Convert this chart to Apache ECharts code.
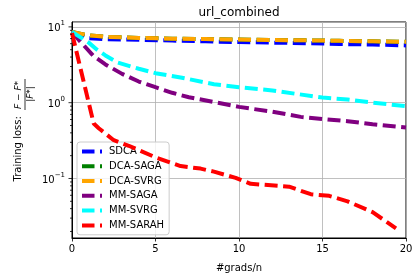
<!DOCTYPE html>
<html>
<head>
<meta charset="utf-8">
<script src="https://cdn.jsdelivr.net/npm/echarts@6/dist/echarts.min.js"></script>
<style>
html,body{margin:0;padding:0;background:#fff;}
#chart{width:419px;height:278px;}
</style>
</head>
<body>
<div id="chart"></div>
<script>
// ---- data ----
const seriesNames = ['SDCA', 'DCA-SAGA', 'DCA-SVRG', 'MM-SAGA', 'MM-SVRG', 'MM-SARAH'];
const seriesColors = ['#0000ff', '#008000', '#ffa500', '#800080', '#00ffff', '#ff0000'];

const sdcaX = [0, 1, 2, 4, 6, 8, 10, 12, 14, 16, 18, 20];
const sdcaY = [8.6, 7.1, 6.9, 6.75, 6.6, 6.45, 6.3, 6.2, 6.1, 5.95, 5.85, 5.7];

const dcaSagaX = [0, 1, 2, 4, 6, 8, 10, 12, 14, 16, 18, 20];
const dcaSagaY = [8.6, 7.7, 7.4, 7.15, 7.0, 6.9, 6.8, 6.7, 6.65, 6.55, 6.45, 6.35];

const dcaSvrgX = [0, 1, 2, 4, 6, 8, 10, 12, 14, 16, 18, 20];
const dcaSvrgY = [8.6, 7.7, 7.4, 7.15, 7.0, 6.9, 6.8, 6.7, 6.65, 6.55, 6.45, 6.35];

const mmSagaX = [0, 0.5, 1.3, 2, 3, 4, 5, 6, 7, 8.5, 10, 12, 13.7, 15, 16.5, 18, 20];
const mmSagaY = [8.6, 6.4, 4.1, 3.2, 2.4, 1.9, 1.6, 1.35, 1.18, 1.02, 0.88, 0.76, 0.65, 0.61, 0.57, 0.52, 0.47];

const mmSvrgX = [0, 1, 1.5, 2, 2.7, 4, 5, 6.5, 8.5, 10, 12, 13.5, 15, 16.5, 18, 20];
const mmSvrgY = [8.6, 6.2, 5.0, 4.2, 3.4, 2.8, 2.45, 2.15, 1.75, 1.6, 1.45, 1.3, 1.17, 1.1, 1.0, 0.9];

const mmSarahX = [0, 1.3, 1.6, 2.5, 3.4, 5, 6.5, 7.7, 8.5, 9.8, 10.7, 13, 14.3, 15.4, 16.5, 18, 19.4];
const mmSarahY = [8.3, 0.53, 0.46, 0.32, 0.27, 0.19, 0.146, 0.135, 0.123, 0.102, 0.085, 0.078, 0.062, 0.059, 0.05, 0.036, 0.022];

const xTicks = [0, 5, 10, 15, 20];
const yMajorTicks = [0.1, 1, 10];
const yMinorTicks = [0.02, 0.03, 0.04, 0.05, 0.06, 0.07, 0.08, 0.09,
                     0.2, 0.3, 0.4, 0.5, 0.6, 0.7, 0.8, 0.9,
                     2, 3, 4, 5, 6, 7, 8, 9];

const titleText = 'url_combined';
const xLabel = '#grads/n';

// ---- build ----
const allX = [sdcaX, dcaSagaX, dcaSvrgX, mmSagaX, mmSvrgX, mmSarahX];
const allY = [sdcaY, dcaSagaY, dcaSvrgY, mmSagaY, mmSvrgY, mmSarahY];
const FONT = 'DejaVu Sans';
const legendIcon = 'path://M0,0h12.5v4h-12.5z M18,0h2v4h-2z';

const lineSeries = seriesNames.map((name, i) => ({
  name: name,
  type: 'line',
  showSymbol: false,
  symbol: 'none',
  data: allX[i].map((x, j) => [x, allY[i][j]]),
  lineStyle: { color: seriesColors[i], width: 4, type: [13, 5.5], cap: 'butt' },
  itemStyle: { color: seriesColors[i] },
  z: 2 + i
}));

const tickData = yMajorTicks.map(v => [0, v, 1]).concat(yMinorTicks.map(v => [0, v, 0]));
const tickSeries = {
  type: 'custom',
  name: '_ticks',
  clip: false,
  silent: true,
  data: tickData,
  encode: { x: 0, y: 1 },
  renderItem: function (params, api) {
    const p = api.coord([0, api.value(1)]);
    const len = api.value(2) ? 3.5 : 2;
    return {
      type: 'line',
      shape: { x1: p[0] - len, y1: p[1], x2: p[0], y2: p[1] },
      style: { stroke: '#000', lineWidth: 0.8 }
    };
  },
  z: 10
};

const supMap = { '1': '1', '0': '0', '-1': '\u22121' };

const option = {
  animation: false,
  backgroundColor: '#fff',
  textStyle: { fontFamily: FONT },
  grid: {
    left: 72, right: 13, top: 22, bottom: 37,
    show: true, borderColor: '#000', borderWidth: 1, backgroundColor: 'transparent'
  },
  legend: {
    data: seriesNames.map((n, i) => ({ name: n, icon: legendIcon, itemStyle: { color: seriesColors[i] } })),
    orient: 'vertical',
    left: 77, top: 142,
    padding: [2, 5, 2, 5],
    itemWidth: 20, itemHeight: 4, itemGap: 0,
    backgroundColor: 'rgba(255,255,255,0.8)',
    borderColor: '#cccccc', borderWidth: 1, borderRadius: 3,
    textStyle: { fontFamily: FONT, fontSize: 10, color: '#000', lineHeight: 14.8, padding: [0, 0, 0, 2] }
  },
  xAxis: {
    type: 'value', min: 0, max: 20, interval: 5,
    axisLine: { show: true, lineStyle: { color: '#000', width: 1 } },
    axisTick: { show: true, length: 3.5, lineStyle: { color: '#000', width: 0.8 } },
    axisLabel: { fontFamily: FONT, fontSize: 10, color: '#000', margin: 6 },
    splitLine: { show: true, lineStyle: { color: '#b0b0b0', width: 0.8 } },
    name: xLabel, nameLocation: 'middle', nameGap: 25,
    nameTextStyle: { fontFamily: FONT, fontSize: 10, color: '#000' }
  },
  yAxis: {
    type: 'log', logBase: 10, min: 0.0164, max: 11.6,
    axisLine: { show: true, lineStyle: { color: '#000', width: 1 } },
    axisTick: { show: false },
    minorTick: { show: false },
    axisLabel: {
      margin: 7,
      showMinLabel: false, showMaxLabel: false,
      formatter: function (v) {
        const e = Math.log10(v);
        const r = Math.round(e);
        if (Math.abs(e - r) > 1e-6) return '';
        return '{b|10}{s|' + (supMap[String(r)] || String(r)) + '}';
      },
      rich: {
        b: { fontFamily: FONT, fontSize: 10, color: '#000', verticalAlign: 'bottom', lineHeight: 14 },
        s: { fontFamily: FONT, fontSize: 7, color: '#000', verticalAlign: 'top', lineHeight: 14 }
      }
    },
    splitLine: { show: true, lineStyle: { color: '#b0b0b0', width: 0.8 } }
  },
  graphic: [
    {
      type: 'text', x: 239, y: 13, z: 100,
      style: { text: titleText, fontFamily: FONT, fontSize: 12, fill: '#000', textAlign: 'center', textVerticalAlign: 'middle' }
    },
    {
      type: 'group', x: 25, y: 131, rotation: Math.PI / 2, z: 100,
      children: [
        { type: 'text', x: 18, y: -2,
          style: { text: 'Training loss: ', fontFamily: FONT, fontSize: 10, fill: '#000', textAlign: 'right', textVerticalAlign: 'bottom' } },
        { type: 'text', x: 36, y: -1.5,
          style: { text: 'F \u2212 F*', fontFamily: FONT, fontStyle: 'italic', fontSize: 9, fill: '#000', textAlign: 'center', textVerticalAlign: 'bottom' } },
        { type: 'line', shape: { x1: 21, y1: 0, x2: 52, y2: 0 }, style: { stroke: '#000', lineWidth: 0.8 } },
        { type: 'text', x: 37, y: 1.5,
          style: { text: '|F*|', fontFamily: FONT, fontStyle: 'italic', fontSize: 9, fill: '#000', textAlign: 'center', textVerticalAlign: 'top' } }
      ]
    }
  ],
  series: lineSeries.concat([tickSeries])
};

const chart = echarts.init(document.getElementById('chart'), null, { renderer: 'canvas' });
chart.setOption(option);
</script>
</body>
</html>
